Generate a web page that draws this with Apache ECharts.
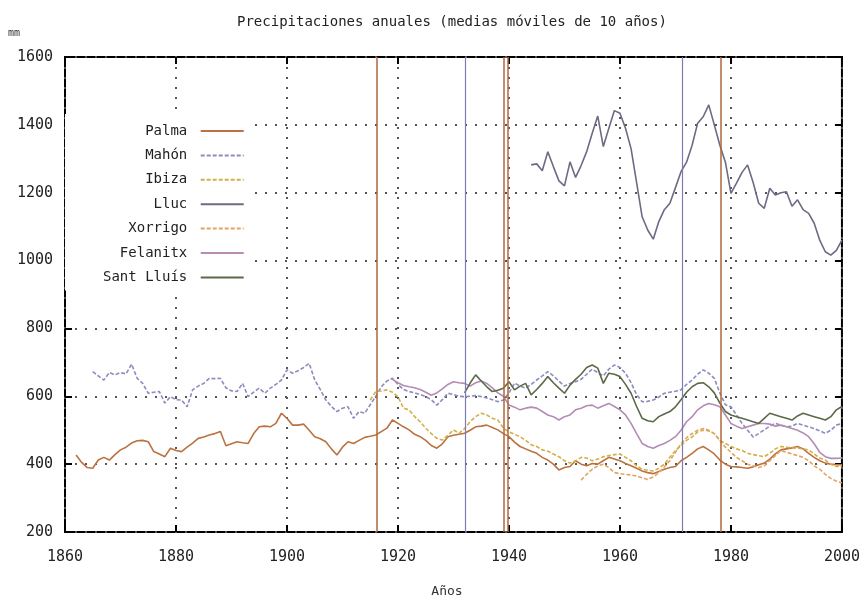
<!DOCTYPE html>
<html>
<head>
<meta charset="utf-8">
<script src="https://cdn.jsdelivr.net/npm/echarts@6/dist/echarts.min.js"></script>
<style>
html,body{margin:0;padding:0;background:#fff;}
#chart{width:863px;height:601px;}
</style>
</head>
<body>
<div id="chart"></div>
<script>
// medias móviles de 10 años
var palmaYears = [1862,1863,1864,1865,1866,1867,1868,1869,1870,1871,1872,1873,1874,1875,1876,1877,1878,1879,1880,1881,1882,1883,1884,1885,1886,1887,1888,1889,1890,1891,1892,1893,1894,1895,1896,1897,1898,1899,1900,1901,1902,1903,1904,1905,1906,1907,1908,1909,1910,1911,1912,1913,1914,1915,1916,1917,1918,1919,1920,1921,1922,1923,1924,1925,1926,1927,1928,1929,1930,1931,1932,1933,1934,1935,1936,1937,1938,1939,1940,1941,1942,1943,1944,1945,1946,1947,1948,1949,1950,1951,1952,1953,1954,1955,1956,1957,1958,1959,1960,1961,1962,1963,1964,1965,1966,1967,1968,1969,1970,1971,1972,1973,1974,1975,1976,1977,1978,1979,1980,1981,1982,1983,1984,1985,1986,1987,1988,1989,1990,1991,1992,1993,1994,1995,1996,1997,1998,1999,2000];
var palmaVals = [427,405,390,388,412,420,412,428,442,450,462,469,470,466,437,430,422,447,440,437,450,462,476,480,486,490,496,454,460,466,463,461,490,510,512,510,520,550,535,515,515,518,500,481,475,466,445,427,450,466,461,470,479,482,486,496,506,530,520,510,501,488,481,470,455,447,460,481,485,488,491,500,510,512,515,508,501,490,481,465,452,445,438,432,420,412,400,383,390,393,410,400,395,402,400,410,420,415,410,402,395,388,380,375,372,378,385,390,393,410,420,432,445,452,442,430,412,400,393,392,390,388,392,398,403,415,430,442,445,448,452,445,432,420,410,403,400,398,398];

var mahonYears = [1865,1866,1867,1868,1869,1870,1871,1872,1873,1874,1875,1876,1877,1878,1879,1880,1881,1882,1883,1884,1885,1886,1887,1888,1889,1890,1891,1892,1893,1894,1895,1896,1897,1898,1899,1900,1901,1902,1903,1904,1905,1906,1907,1908,1909,1910,1911,1912,1913,1914,1915,1916,1917,1918,1919,1920,1921,1922,1923,1924,1925,1926,1927,1928,1929,1930,1931,1932,1933,1934,1935,1936,1937,1938,1939,1940,1941,1942,1943,1944,1945,1946,1947,1948,1949,1950,1951,1952,1953,1954,1955,1956,1957,1958,1959,1960,1961,1962,1963,1964,1965,1966,1967,1968,1969,1970,1971,1972,1973,1974,1975,1976,1977,1978,1979,1980,1981,1982,1983,1984,1985,1986,1987,1988,1989,1990,1991,1992,1993,1994,1995,1996,1997,1998,1999,2000];
var mahonVals = [673,660,648,670,663,670,666,695,653,638,609,612,614,580,599,590,589,569,619,630,638,653,652,653,625,616,614,638,599,612,624,609,624,635,648,678,668,675,685,697,648,620,589,570,555,565,569,535,555,550,575,600,628,645,653,635,620,614,610,605,599,590,574,590,609,605,600,599,600,602,599,595,590,584,589,610,639,630,624,635,648,660,673,660,645,630,638,643,650,665,680,670,660,680,692,685,668,640,605,584,585,589,598,609,612,615,619,635,648,665,678,668,653,610,575,569,545,520,500,480,490,501,512,520,515,510,512,520,515,510,505,498,491,500,515,520];

var ibizaYears = [1915,1916,1917,1918,1919,1920,1921,1922,1923,1924,1925,1926,1927,1928,1929,1930,1931,1932,1933,1934,1935,1936,1937,1938,1939,1940,1941,1942,1943,1944,1945,1946,1947,1948,1949,1950,1951,1952,1953,1954,1955,1956,1957,1958,1959,1960,1961,1962,1963,1964,1965,1966,1967,1968,1969,1970,1971,1972,1973,1974,1975,1976,1977,1978,1979,1980,1981,1982,1983,1984,1985,1986,1987,1988,1989,1990,1991,1992,1993,1994,1995,1996,1997,1998,1999,2000];
var ibizaVals = [589,614,616,619,612,599,565,560,540,525,506,490,476,471,485,501,491,505,525,540,550,545,535,530,506,495,488,481,470,457,452,442,438,430,422,410,403,410,420,418,410,415,422,425,428,430,420,410,395,385,382,380,388,400,420,440,455,470,480,495,500,498,490,470,461,452,445,440,432,428,425,422,432,445,452,450,448,447,445,442,430,418,412,400,393,395];

var llucYears = [1944,1945,1946,1947,1948,1949,1950,1951,1952,1953,1954,1955,1956,1957,1958,1959,1960,1961,1962,1963,1964,1965,1966,1967,1968,1969,1970,1971,1972,1973,1974,1975,1976,1977,1978,1979,1980,1981,1982,1983,1984,1985,1986,1987,1988,1989,1990,1991,1992,1993,1994,1995,1996,1997,1998,1999,2000];
var llucVals = [1282,1285,1265,1321,1277,1235,1220,1291,1245,1280,1321,1375,1426,1336,1390,1442,1434,1390,1330,1230,1129,1090,1063,1115,1150,1169,1215,1262,1290,1340,1405,1424,1459,1400,1340,1290,1198,1228,1260,1282,1230,1169,1154,1213,1193,1200,1203,1160,1179,1150,1139,1110,1060,1026,1016,1030,1060];

var xorrigoYears = [1953,1954,1955,1956,1957,1958,1959,1960,1961,1962,1963,1964,1965,1966,1967,1968,1969,1970,1971,1972,1973,1974,1975,1976,1977,1978,1979,1980,1981,1982,1983,1984,1985,1986,1987,1988,1989,1990,1991,1992,1993,1994,1995,1996,1997,1998,1999,2000];
var xorrigoVals = [353,370,385,395,400,390,375,372,370,368,365,360,355,362,375,392,410,435,460,478,490,500,505,500,490,470,450,435,420,410,400,395,390,395,410,425,440,435,430,425,420,410,395,385,370,358,350,345];

var felanitxYears = [1919,1920,1921,1922,1923,1924,1925,1926,1927,1928,1929,1930,1931,1932,1933,1934,1935,1936,1937,1938,1939,1940,1941,1942,1943,1944,1945,1946,1947,1948,1949,1950,1951,1952,1953,1954,1955,1956,1957,1958,1959,1960,1961,1962,1963,1964,1965,1966,1967,1968,1969,1970,1971,1972,1973,1974,1975,1976,1977,1978,1979,1980,1981,1982,1983,1984,1985,1986,1987,1988,1989,1990,1991,1992,1993,1994,1995,1996,1997,1998,1999,2000];
var felanitxVals = [650,640,632,628,625,620,612,603,610,622,635,643,640,638,630,640,645,638,625,610,600,574,568,560,565,568,565,555,545,540,530,540,545,560,565,572,574,565,572,579,570,560,545,520,490,461,452,447,455,461,470,481,500,525,540,560,572,579,575,569,545,520,512,505,510,515,520,520,518,512,515,510,505,500,492,481,460,435,422,417,417,418];

var santLluisYears = [1932,1933,1934,1935,1936,1937,1938,1939,1940,1941,1942,1943,1944,1945,1946,1947,1948,1949,1950,1951,1952,1953,1954,1955,1956,1957,1958,1959,1960,1961,1962,1963,1964,1965,1966,1967,1968,1969,1970,1971,1972,1973,1974,1975,1976,1977,1978,1979,1980,1981,1982,1983,1984,1985,1986,1987,1988,1989,1990,1991,1992,1993,1994,1995,1996,1997,1998,1999,2000];
var santLluisVals = [610,639,663,645,628,614,618,624,643,619,630,638,604,620,638,658,640,624,609,633,650,665,685,692,683,638,668,665,658,635,609,570,535,528,525,540,548,555,569,590,612,628,638,640,628,610,580,555,545,540,535,530,525,520,535,550,545,540,535,530,542,550,545,540,535,530,540,560,570];

// líneas verticales
var brownMarks = [1916.2, 1939.1, 1939.7, 1978.1];
var blueMarks = [1932.1, 1971.2];

var font = 'DejaVu Sans Mono';

function pairs(xs, ys) {
  var out = [];
  for (var i = 0; i < xs.length; i++) out.push([xs[i], ys[i]]);
  return out;
}
function vlines(list) {
  return list.map(function (v) { return {xAxis: v}; });
}

function mkSeries(name, xs, ys, color, dash) {
  return {
    name: name,
    type: 'line',
    xAxisIndex: 0,
    yAxisIndex: 0,
    data: pairs(xs, ys),
    symbol: 'none',
    animation: false,
    lineStyle: {color: color, width: 1.6, type: dash ? [4, 2] : 'solid'},
    itemStyle: {color: color}
  };
}

var palma = mkSeries('Palma', palmaYears, palmaVals, '#bb7240', false);
palma.markLine = {
  silent: true, symbol: 'none', animation: false,
  label: {show: false},
  lineStyle: {color: '#b0663a', width: 1.5, type: 'solid'},
  data: vlines(brownMarks)
};
var mahon = mkSeries('Mahón', mahonYears, mahonVals, '#8c8cbe', true);
mahon.markLine = {
  silent: true, symbol: 'none', animation: false,
  label: {show: false},
  lineStyle: {color: '#7c7cb4', width: 1.2, type: 'solid'},
  data: vlines(blueMarks)
};

var series = [
  palma,
  mahon,
  mkSeries('Ibiza', ibizaYears, ibizaVals, '#d2b048', true),
  mkSeries('Lluc', llucYears, llucVals, '#6c6a84', false),
  mkSeries('Xorrigo', xorrigoYears, xorrigoVals, '#e2a464', true),
  mkSeries('Felanitx', felanitxYears, felanitxVals, '#b48cb4', false),
  mkSeries('Sant Lluís', santLluisYears, santLluisVals, '#5a6a48', false)
];

var dotted = {show: true, lineStyle: {color: '#555', width: 2, type: [2, 8]}};
var tick = {show: true, inside: true, length: 7, lineStyle: {color: '#000', width: 2}};
var plain = function (v) { return String(v); };

var option = {
  backgroundColor: '#fff',
  title: {
    text: 'Precipitaciones anuales (medias móviles de 10 años)',
    left: 232, top: 10,
    textStyle: {fontFamily: font, fontSize: 14, fontWeight: 'normal', color: '#222'}
  },
  grid: {show: true, left: 65, right: 16, top: 57, bottom: 69, borderColor: '#000', borderWidth: 2},
  legend: {
    orient: 'vertical',
    align: 'right',
    left: 65, top: 114,
    padding: [10, 5, 6, 38],
    backgroundColor: '#fff',
    itemWidth: 43, itemHeight: 14, itemGap: 10.4,
    itemStyle: {opacity: 0},
    formatter: '{name} ',
    textStyle: {fontFamily: font, fontSize: 14, color: '#222'},
    data: series.map(function (s) { return s.name; })
  },
  xAxis: [{
    type: 'value', min: 1860, max: 2000, interval: 20,
    axisLine: {show: false},
    axisTick: tick,
    axisLabel: {fontFamily: font, fontSize: 15, color: '#222', margin: 18, formatter: plain},
    splitLine: dotted
  }, {
    type: 'value', position: 'top', min: 1860, max: 2000, interval: 20,
    axisLine: {show: false},
    axisTick: tick,
    axisLabel: {show: false}, splitLine: {show: false}
  }],
  yAxis: [{
    type: 'value', min: 200, max: 1600, interval: 200,
    axisLine: {show: false},
    axisTick: tick,
    axisLabel: {fontFamily: font, fontSize: 15, color: '#222', margin: 12, formatter: plain},
    splitLine: dotted
  }, {
    type: 'value', position: 'right', min: 200, max: 1600, interval: 200,
    axisLine: {show: false},
    axisTick: tick,
    axisLabel: {show: false}, splitLine: {show: false}
  }],
  graphic: [
    {type: 'text', left: 8, top: 28, style: {text: 'mm', font: '10px ' + font, fill: '#333'}},
    {type: 'text', x: 447, y: 592, style: {text: 'Años', font: '13px ' + font, fill: '#333', textAlign: 'center', textVerticalAlign: 'middle'}}
  ],
  series: series
};

var myChart = echarts.init(document.getElementById('chart'));
myChart.setOption(option);
</script>
</body>
</html>
